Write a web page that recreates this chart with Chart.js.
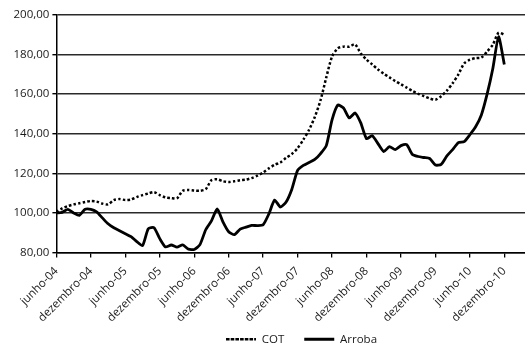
<!DOCTYPE html>
<html><head><meta charset="utf-8">
<script src="https://cdn.jsdelivr.net/npm/chart.js@4.4.1/dist/chart.umd.min.js"></script>
<style>html,body{margin:0;padding:0;background:#fff}#wrap{width:525px;height:346px;position:relative}</style>
</head><body><div id="wrap"><canvas id="c"></canvas></div>
<script>
// Monthly observations from junho-04 (month 0) to dezembro-10 (month 78)
const seriesNames = ['COT', 'Arroba'];
const tickLabels = ['junho-04','dezembro-04','junho-05','dezembro-05','junho-06','dezembro-06','junho-07',
  'dezembro-07','junho-08','dezembro-08','junho-09','dezembro-09','junho-10','dezembro-10'];
const cot = [100.5,102.3,103.5,104.3,104.9,105.5,106,105.7,104.7,104.3,
  106.5,107,106.5,106.8,108,109,109.8,110.5,109,107.8,
  107.5,107.4,111.2,111.6,111.3,111.2,112,116.5,117,116,
  115.6,116,116.5,116.8,117.6,118.8,120.5,122.5,124.3,125.5,
  127.8,129.8,132.7,137,142,148.5,157,168.5,179,183.2,
  184,184,185.2,180.6,177.5,175,172.5,170.3,168.5,166.6,
  165,163.3,161.6,160.2,159,157.8,157.2,159,161.8,165.5,
  170,175.5,177.4,178.2,178.5,181.5,185,191,190];
const arroba = [100,100.3,101.8,100,98.8,101.8,101.8,100.5,97.5,94.5,
  92.5,91,89.5,88,85.5,83.5,92,92.5,87,82.8,
  83.8,82.7,83.8,81.7,81.5,84,91.5,96,102,95.5,
  90.5,89,91.8,92.8,93.7,93.6,94,99.5,106.5,103,
  105.5,112,121.5,124,125.5,127,130,134,147,154.5,
  153,148,150.5,145.5,137.5,139,135,131,133.5,132,
  134,134.5,129.5,128.5,128,127.5,124.2,124.5,128.8,132,
  135.5,136,139.5,143.5,149.5,160,173,189,175];
const tickStepMonths = 6;
const yMin = 80, yMax = 200, yStep = 20;

const toPoints = arr => arr.map((v, i) => ({x: i, y: v}));
const FONT = {family: "'Open Sans', sans-serif", size: 11.5};
const TXT = '#1a1a1a';

const legendShift = {
  id: 'legendShift',
  afterLayout(chart) {
    const lg = chart.legend;
    if (lg) { lg.left += 39; lg.right += 39; lg.top -= 19; lg.bottom -= 19; }
  }
};

new Chart(document.getElementById('c'), {
  type: 'line',
  data: {
    datasets: [
      {label: seriesNames[0], data: toPoints(cot), borderColor: '#000', backgroundColor: '#000',
       borderWidth: 2.5, borderDash: [2.5, 2.2], pointRadius: 0, tension: 0.25, fill: false},
      {label: seriesNames[1], data: toPoints(arroba), borderColor: '#000', backgroundColor: '#000',
       borderWidth: 2.8, pointRadius: 0, tension: 0.2, fill: false}
    ]
  },
  options: {
    animation: false,
    responsive: true,
    maintainAspectRatio: false,
    layout: {padding: {top: 15, left: 0, right: 0, bottom: -28}},
    plugins: {
      tooltip: {enabled: false},
      legend: {
        position: 'bottom',
        labels: {font: FONT, color: TXT, boxWidth: 30, boxHeight: 0, padding: 20}
      }
    },
    scales: {
      x: {
        type: 'linear',
        min: 0,
        max: 81.6,
        afterFit: s => { s.height = 80; },
        grid: {drawOnChartArea: false, drawTicks: true, tickLength: 5, color: '#000', lineWidth: 1.3},
        border: {display: true, color: '#000', width: 1.5},
        ticks: {
          stepSize: tickStepMonths, includeBounds: false, autoSkip: false,
          minRotation: 45, maxRotation: 45, padding: 7, font: FONT, color: TXT,
          callback: v => tickLabels[Math.round(v / tickStepMonths)] || ''
        }
      },
      y: {
        min: yMin, max: yMax,
        afterFit: s => { s.width = 56.4; },
        grid: {color: '#2a2a2a', lineWidth: 1.4, tickLength: 4, tickColor: '#000'},
        border: {display: true, color: '#000', width: 1.5},
        ticks: {stepSize: yStep, padding: 3, font: FONT, color: TXT,
          callback: v => v.toFixed(2).replace('.', ',')}
      }
    }
  },
  plugins: [legendShift]
});
</script></body></html>
